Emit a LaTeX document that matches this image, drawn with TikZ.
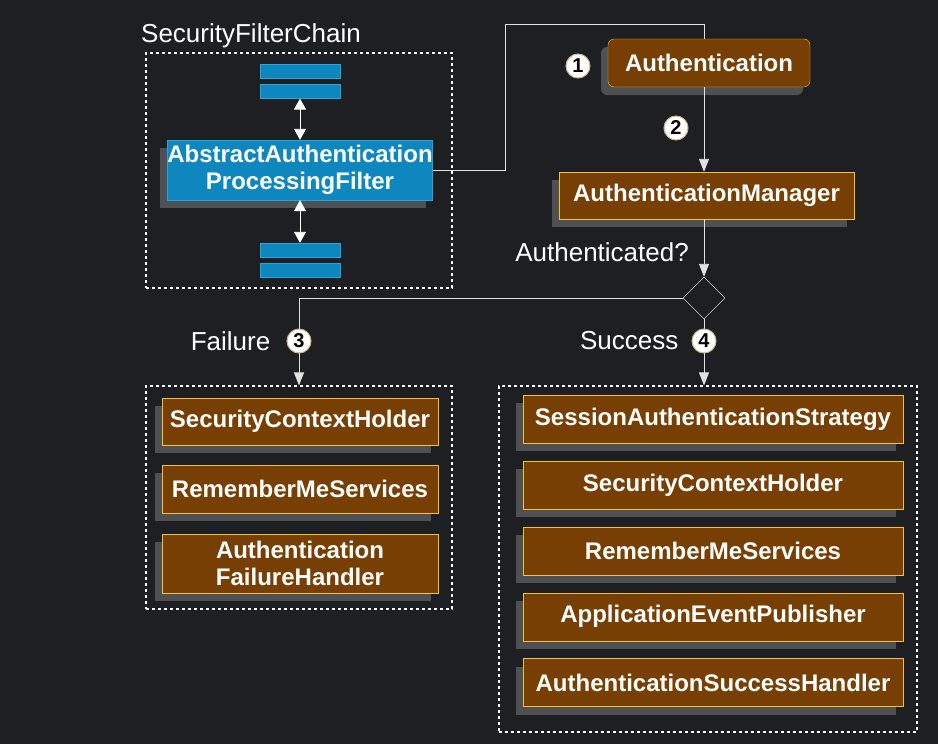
\documentclass[tikz,border=0pt]{standalone}
\usepackage{fontspec}
\setmainfont{Liberation Sans}
\usetikzlibrary{shapes.geometric, arrows.meta, positioning, shadows}
\definecolor{nightbg}{RGB}{29,31,35}
\definecolor{beanbrown}{RGB}{120,63,4}
\definecolor{beangold}{RGB}{241,194,50}
\definecolor{filterblue}{RGB}{14,135,190}
\definecolor{filteredge}{RGB}{40,165,215}
\definecolor{shadowgrey}{RGB}{78,80,83}
\definecolor{wire}{RGB}{225,225,225}
\definecolor{discwhite}{RGB}{255,255,255}
\definecolor{disctan}{RGB}{205,180,140}

\begin{document}
\begin{tikzpicture}[
  x=1pt, y=-1pt,
  bean/.style={
    rectangle, draw=beangold, fill=beanbrown, text=white,
    font=\fontsize{24}{27}\selectfont\bfseries,
    minimum height=48pt, inner sep=0pt, align=center,
    drop shadow={shadow xshift=-7pt, shadow yshift=-8pt,
                 fill=shadowgrey, opacity=1}
  },
  bar/.style={
    rectangle, draw=filteredge, fill=filterblue,
    minimum width=80pt, minimum height=14pt, inner sep=0pt
  },
  group/.style={draw=white, dashed, line width=1.1pt, inner sep=0pt},
  wirearrow/.style={-{Triangle[length=13pt,width=10pt]}, wire, line width=0.9pt},
  stepno/.style={
    circle, fill=discwhite, draw=disctan, line width=1pt, text=black,
    inner sep=0pt, minimum size=24pt, font=\fontsize{20}{20}\selectfont\bfseries
  },
  caption/.style={text=white, font=\fontsize{26}{29}\selectfont, inner sep=0pt}
]
\useasboundingbox[fill=nightbg] (0,0) rectangle (938,744);

% dashed groups
\node[group, minimum width=306pt, minimum height=235pt] (chaingroup) at (299,170.5) {};
\node[group, minimum width=306pt, minimum height=223pt] (failgroup) at (299,497.5) {};
\node[group, minimum width=418pt, minimum height=346pt] (okgroup) at (708,559) {};

\node[caption, anchor=west] (chaintitle) at (141,36) {SecurityFilterChain};

% filter chain
\node[bar] (barA) at (300,71) {};
\node[bar, below=6pt of barA] (barB) {};
\node[bean, fill=filterblue, draw=filteredge,
      minimum width=264pt, minimum height=60pt]
  (filter) at (300,170) {AbstractAuthentication\\ProcessingFilter};
\node[bar] (barC) at (300,250) {};
\node[bar, below=6pt of barC] (barD) {};

\foreach \from/\to in {barB/filter,filter/barC}
  \draw[{Triangle[length=11pt,width=12pt]}-{Triangle[length=11pt,width=12pt]},
        white, line width=0.9pt] (\from) -- (\to);

% authentication flow
\node[bean, rounded corners=6pt, minimum width=202pt] (auth) at (709,63) {Authentication};
\node[bean, minimum width=295pt, minimum height=47pt] (authmgr) at (706.5,195.5)
  {AuthenticationManager};
\node[diamond, draw=white, fill=nightbg, minimum width=42pt, minimum height=42pt,
      inner sep=0pt] (check) at (704,298) {};

\coordinate (bend) at (505,24);
\draw[wire, line width=0.9pt] (filter.east) -| (bend) -| (auth.north -| check);
\draw[wirearrow] (auth.south -| check) -- (authmgr.north -| check);
\draw[wirearrow] (authmgr.south -| check) -- (check.north);
\draw[wirearrow] (check.west) -| (failgroup.north);
\draw[wirearrow] (check.south) -- (check.south |- okgroup.north);

\node[caption, anchor=east] (authq) at (689,252) {Authenticated?};

% failure
\node[bean, minimum width=276pt, minimum height=47pt] (failSCH) at (300,421.5)
  {SecurityContextHolder};
\node[bean, minimum width=276pt, below=20pt of failSCH] (failRMS) {RememberMeServices};
\node[bean, minimum width=276pt, minimum height=59pt, below=20pt of failRMS] (failAFH)
  {Authentication\\FailureHandler};

% success
\node[bean, minimum width=380pt] (okSAS) at (713,419) {SessionAuthenticationStrategy};
\node[bean, minimum width=380pt, below=17.5pt of okSAS] (okSCH) {SecurityContextHolder};
\node[bean, minimum width=380pt, below=17.5pt of okSCH] (okRMS) {RememberMeServices};
\node[bean, minimum width=380pt, below=17.5pt of okRMS] (okAEP) {ApplicationEventPublisher};
\node[bean, minimum width=380pt, below=17.5pt of okAEP] (okASH) {AuthenticationSuccessHandler};

% step numbers
\node[stepno] (stepA) at (578,66) {\textcolor{black}{1}};
\node[stepno] (stepB) at (676,128) {\textcolor{black}{2}};
\node[stepno] (stepC) at (299,341) {\textcolor{black}{3}};
\node[stepno] (stepD) at (704,341) {\textcolor{black}{4}};

\node[caption, left=16pt of stepC] (failtxt) {Failure};
\node[caption, left=13pt of stepD] (oktxt) {Success};
\end{tikzpicture}
\end{document}
